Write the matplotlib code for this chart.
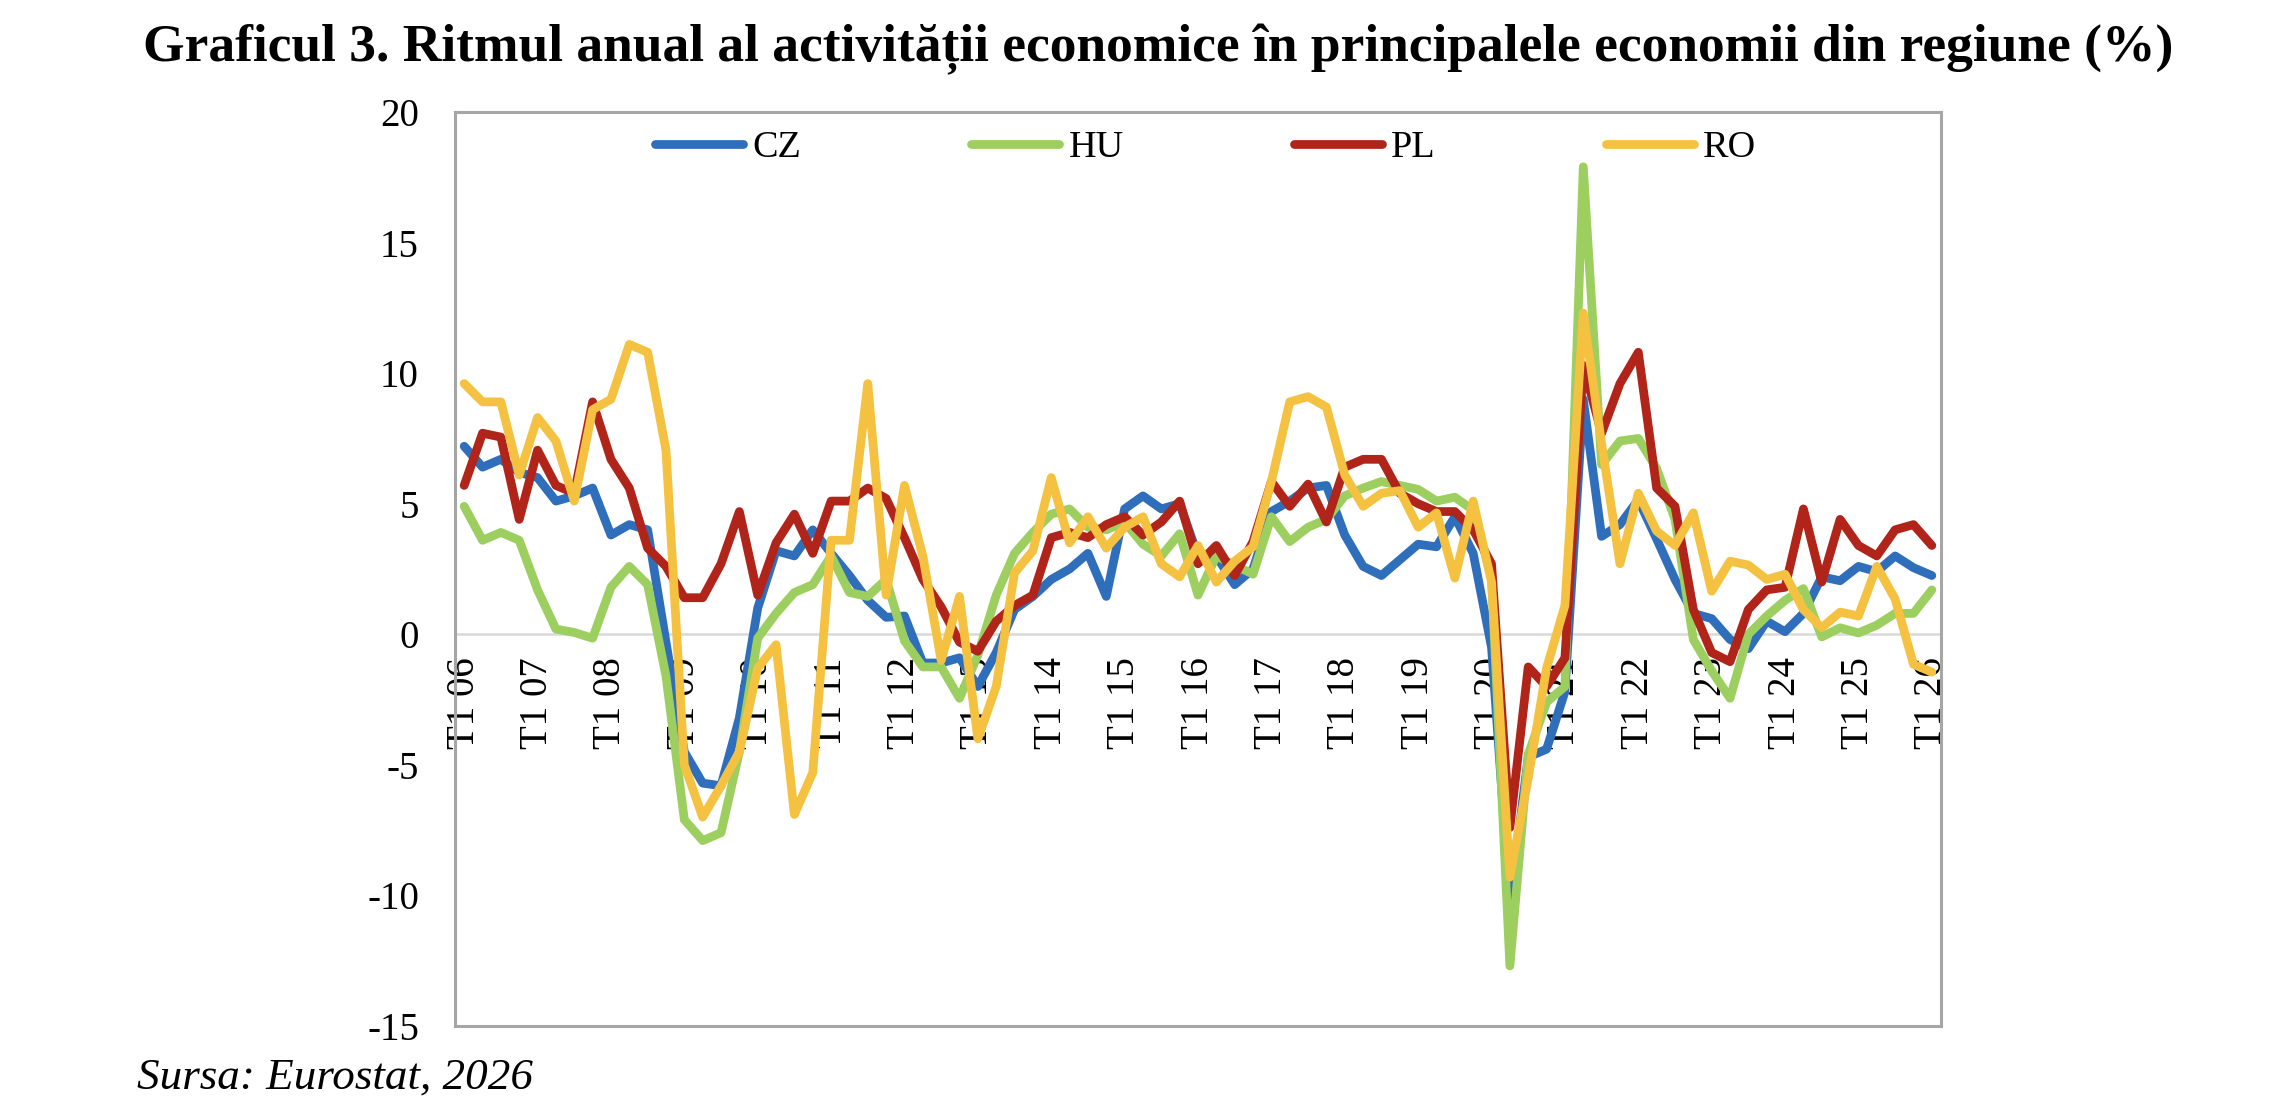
import matplotlib
matplotlib.use("Agg")
import matplotlib.pyplot as plt

plt.rcParams['font.family'] = ['Liberation Serif', 'DejaVu Serif']
plt.rcParams['axes.unicode_minus'] = False

# ---- data ----
quarters = list(range(81))  # T1 06 ... T1 26
tick_labels = ["T1 06", "T1 07", "T1 08", "T1 09", "T1 10", "T1 11", "T1 12",
               "T1 13", "T1 14", "T1 15", "T1 16", "T1 17", "T1 18", "T1 19",
               "T1 20", "T1 21", "T1 22", "T1 23", "T1 24", "T1 25", "T1 26"]
series_names = ["CZ", "HU", "PL", "RO"]

cz = [7.2, 6.4, 6.7, 6.2, 6.0, 5.1, 5.3, 5.6, 3.8, 4.2, 4.0, -0.3, -4.5, -5.7,
      -5.8, -3.2, 1.0, 3.2, 3.0, 4.0, 3.1, 2.25, 1.3, 0.65, 0.7, -1.1, -1.1, -0.9,
      -2.0, -0.7, 0.95, 1.45, 2.1, 2.5, 3.1, 1.45, 4.8, 5.3, 4.8, 5.0, 3.0,
      3.0, 1.9, 2.5, 4.7, 5.1, 5.6, 5.7, 3.8, 2.6, 2.25, 2.85, 3.45, 3.35, 4.5,
      3.1, -0.5, -10.3, -4.7, -4.4, -2.2, 9.0, 3.75, 4.2, 5.15, 3.65, 2.1, 0.8, 0.6,
      -0.2, -0.55, 0.5, 0.1, 0.8, 2.2, 2.05, 2.6, 2.4, 3.0, 2.55, 2.25]
hu = [4.9, 3.6, 3.9, 3.6, 1.7, 0.2, 0.07, -0.15, 1.8, 2.6, 1.9, -1.6, -7.1, -7.9,
      -7.6, -4.5, -0.15, 0.8, 1.6, 1.9, 3.0, 1.6, 1.45, 2.1, -0.25, -1.25, -1.25, -2.45,
      -0.8, 1.5, 3.1, 3.9, 4.6, 4.8, 4.1, 4.0, 4.3, 3.45, 3.0, 3.85, 1.5,
      3.0, 2.65, 2.3, 4.5, 3.55, 4.1, 4.4, 5.3, 5.6, 5.85, 5.7, 5.55, 5.1, 5.25,
      4.75, 2.15, -12.7, -4.6, -2.6, -2.0, 17.9, 6.5, 7.4, 7.5, 6.35, 4.4, -0.2, -1.4,
      -2.45, 0.0, 0.7, 1.3, 1.75, -0.1, 0.25, 0.05, 0.35, 0.8, 0.8, 1.7]
pl = [5.7, 7.7, 7.55, 4.4, 7.05, 5.7, 5.4, 8.9, 6.7, 5.6, 3.3, 2.6, 1.4, 1.4,
      2.7, 4.7, 1.5, 3.5, 4.6, 3.1, 5.1, 5.1, 5.6, 5.2, 3.7, 2.1, 1.05, -0.3,
      -0.65, 0.5, 1.1, 1.5, 3.7, 3.9, 3.7, 4.2, 4.5, 3.8, 4.3, 5.1, 2.7,
      3.4, 2.25, 3.55, 5.85, 4.9, 5.75, 4.3, 6.4, 6.7, 6.7, 5.4, 5.0, 4.7, 4.7,
      4.0, 2.7, -7.4, -1.25, -2.0, -0.9, 10.3, 7.7, 9.6, 10.8, 5.6, 4.9, 0.95, -0.7,
      -1.05, 0.95, 1.7, 1.8, 4.8, 2.0, 4.4, 3.4, 3.0, 4.0, 4.2, 3.4]
ro = [9.6, 8.9, 8.9, 6.1, 8.3, 7.4, 5.1, 8.6, 9.0, 11.1, 10.8, 7.05, -5.0, -7.0,
      -5.8, -4.5, -1.3, -0.4, -6.9, -5.3, 3.6, 3.6, 9.6, 1.5, 5.7, 3.0, -1.0, 1.45,
      -4.0, -2.0, 2.35, 3.2, 6.0, 3.5, 4.5, 3.3, 4.1, 4.5, 2.7, 2.2, 3.4,
      2.0, 2.8, 3.35, 5.85, 8.9, 9.1, 8.7, 6.1, 4.9, 5.4, 5.5, 4.1, 4.65, 2.15,
      5.1, 2.0, -9.3, -5.5, -1.3, 1.1, 12.3, 7.3, 2.7, 5.4, 3.95, 3.4, 4.65, 1.65,
      2.8, 2.65, 2.1, 2.3, 0.95, 0.25, 0.85, 0.7, 2.6, 1.35, -1.15, -1.45]

colors = {"CZ": "#2F6EBA", "HU": "#9CCF5F", "PL": "#B0241A", "RO": "#F5C141"}
values = {"CZ": cz, "HU": hu, "PL": pl, "RO": ro}

W, H = 2292, 1104
fig = plt.figure(figsize=(W / 100, H / 100), dpi=100)
left, right, top, bottom = 455, 1941, 112, 1026
ax = fig.add_axes([left / W, 1 - bottom / H, (right - left) / W, (bottom - top) / H])

for name in series_names:
    ax.plot(quarters, values[name], color=colors[name], lw=6.3, label=name,
            solid_capstyle='round', solid_joinstyle='round', zorder=3)

ax.set_xlim(-0.5, 80.5)
ax.set_ylim(-15, 20)
ax.set_yticks(range(-15, 21, 5))
ax.tick_params(axis='y', length=0, pad=26, labelsize=28)
ax.set_xticks([])
for sp in ax.spines.values():
    sp.set_color('#A6A6A6')
    sp.set_linewidth(2.2)

ax.axhline(0, color='#D9D9D9', lw=1.8, zorder=1)

for k, lab in enumerate(tick_labels):
    ax.annotate(lab, xy=(quarters[k * 4], 0), xycoords='data',
                xytext=(0, -16.5), textcoords='offset points',
                rotation=90, ha='center', va='top', fontsize=28, zorder=1)

fig.legend(loc='center left', bbox_to_anchor=(655 / W, 1 - 148 / H),
           bbox_transform=fig.transFigure, ncol=4, frameon=False,
           fontsize=27.5, handlelength=2.3, handletextpad=0.25,
           columnspacing=4.45, borderpad=0, borderaxespad=0)

fig.text(0.5055, 1 - 61 / H,
         "Graficul 3. Ritmul anual al activității economice în principalele economii din regiune (%)",
         ha='center', va='baseline', fontsize=38.5, fontweight='bold')
fig.text(137 / W, 1 - 1089 / H, "Sursa: Eurostat, 2026",
         ha='left', va='baseline', fontsize=32.5, style='italic')

fig.savefig("out.png", dpi=100)
